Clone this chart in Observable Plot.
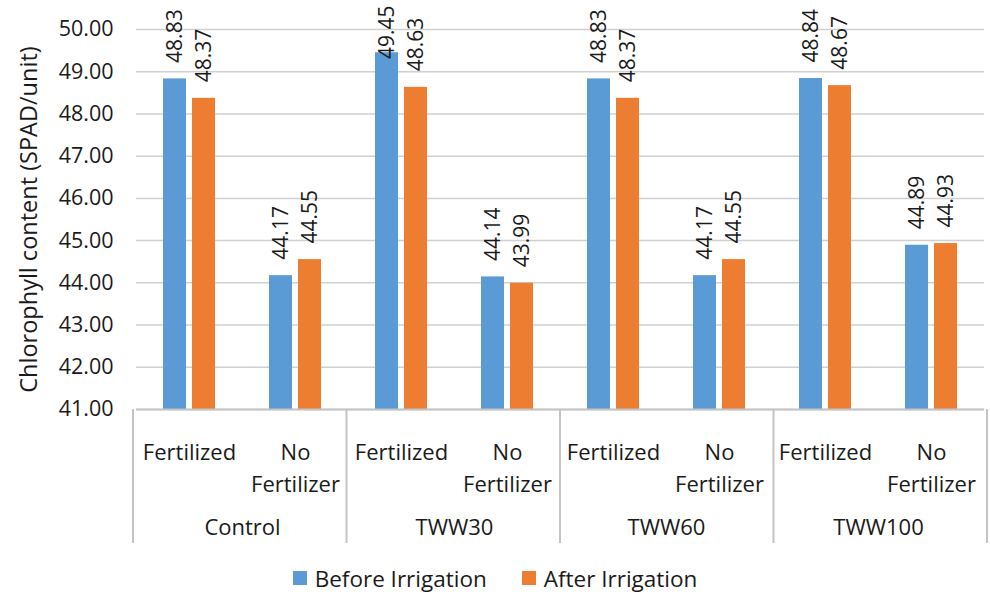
<!DOCTYPE html>
<html>
<head>
<meta charset="utf-8">
<script src="https://cdn.jsdelivr.net/npm/d3@7"></script>
<script src="https://cdn.jsdelivr.net/npm/@observablehq/plot@0.6"></script>
<style>
  body { margin: 0; background: #fff; font-family: "Open Sans", sans-serif; }
  #legend { width: 990px; height: 36px; display: flex; justify-content: center; align-items: center; gap: 35px; font-size: 22.5px; color: #1a1a1a; }
  #legend .item { display: flex; align-items: center; }
  #legend .sw { width: 14px; height: 14px; margin-right: 8px; }
</style>
</head>
<body>
<div id="chart"></div>
<div id="legend"></div>
<script>
// Treatments, fertilizer levels and the two measurement series
const groups = ["Control", "TWW30", "TWW60", "TWW100"];
const subgroups = ["Fertilized", "No\nFertilizer"];
const series = ["Before Irrigation", "After Irrigation"];
const beforeValues = [48.83, 44.17, 49.45, 44.14, 48.83, 44.17, 48.84, 44.89];
const afterValues  = [48.37, 44.55, 48.63, 43.99, 48.37, 44.55, 48.67, 44.93];
const colors = ["#5b9bd5", "#ed7d31"];
const yTicks = [41, 42, 43, 44, 45, 46, 47, 48, 49, 50];
const yLabel = "Chlorophyll content (SPAD/unit)";

const yMin = yTicks[0], yMax = yTicks[yTicks.length - 1];
// labels for bars above this value are pulled inside the top of the chart
const labelCap = 49;

const cats = groups.flatMap(g => subgroups.map(s => ({key: g + "|" + s, group: g, sub: s})));
const rows = cats.flatMap((c, i) => [
  {...c, series: series[0], value: beforeValues[i]},
  {...c, series: series[1], value: afterValues[i]}
]);
const fmt = d3.format(".2f");

const chart = Plot.plot({
  width: 990,
  height: 560,
  marginLeft: 133,
  marginRight: 3,
  marginTop: 29,
  marginBottom: 151,
  style: {fontFamily: "Open Sans", fontSize: "22px", color: "#1a1a1a", background: "#fff", overflow: "visible"},
  fx: {domain: cats.map(d => d.key), padding: 0, axis: null},
  x: {domain: series, paddingInner: 0.2, paddingOuter: 0.883, axis: null},
  y: {domain: [yMin, yMax]},
  color: {domain: series, range: colors},
  marks: [
    Plot.gridY(yTicks, {stroke: "#d0d0d0", strokeOpacity: 1, strokeWidth: 1.5}),
    Plot.axisY(yTicks, {
      tickSize: 0, tickPadding: 23, tickFormat: fmt, fontSize: 21.5,
      label: null
    }),
    Plot.axisY({
      ticks: [], tickSize: 0, fontSize: 23.5,
      label: yLabel, labelAnchor: "center", labelArrow: "none", labelOffset: 116
    }),
    Plot.barY(rows, {fx: "key", x: "series", y1: yMin, y2: "value", fill: "series"}),
    Plot.ruleY([yMin], {stroke: "#c4c4c4", strokeWidth: 2}),
    Plot.text(rows.filter(d => d.value < labelCap), {
      fx: "key", x: "series", y: "value", text: d => fmt(d.value),
      rotate: -90, textAnchor: "start", dy: -16, fontSize: 21
    }),
    Plot.text(rows.filter(d => d.value >= labelCap), {
      fx: "key", x: "series", y: () => yMax, text: d => fmt(d.value),
      rotate: -90, textAnchor: "end", dy: -24, fontSize: 21
    }),
    Plot.text(cats, {
      fx: "key", text: "sub", frameAnchor: "bottom", lineAnchor: "top",
      dy: 28, lineHeight: 1.45, fontSize: 22
    }),
    Plot.text(cats.filter(c => c.sub === subgroups[0]), {
      fx: "key", text: "group", frameAnchor: "bottom-right", textAnchor: "middle",
      lineAnchor: "top", dy: 110, fontSize: 22
    })
  ]
});

// Group separators below the axis, placed with the chart's own fx and y scales
const fxs = chart.scale("fx");
const fxBand = d3.scaleBand().domain(fxs.domain).range(fxs.range)
  .paddingInner(fxs.paddingInner || 0).paddingOuter(fxs.paddingOuter || 0).align(fxs.align ?? 0.5);
const ys = chart.scale("y");
const yLin = d3.scaleLinear().domain(ys.domain).range(ys.range);
const sepX = groups.map(g => fxBand(g + "|" + subgroups[0])).concat([fxs.range[1]]);
const y0 = yLin(yMin);
d3.select(chart).append("g")
  .attr("stroke", "#c4c4c4").attr("stroke-width", 2)
  .selectAll("line").data(sepX).join("line")
  .attr("x1", d => d).attr("x2", d => d)
  .attr("y1", y0).attr("y2", y0 + 134);

document.getElementById("chart").append(chart);

// Legend
const legend = d3.select("#legend");
series.forEach((s, i) => {
  const item = legend.append("div").attr("class", "item");
  item.append("div").attr("class", "sw").style("background", colors[i]);
  item.append("span").text(s);
});
</script>
</body>
</html>
